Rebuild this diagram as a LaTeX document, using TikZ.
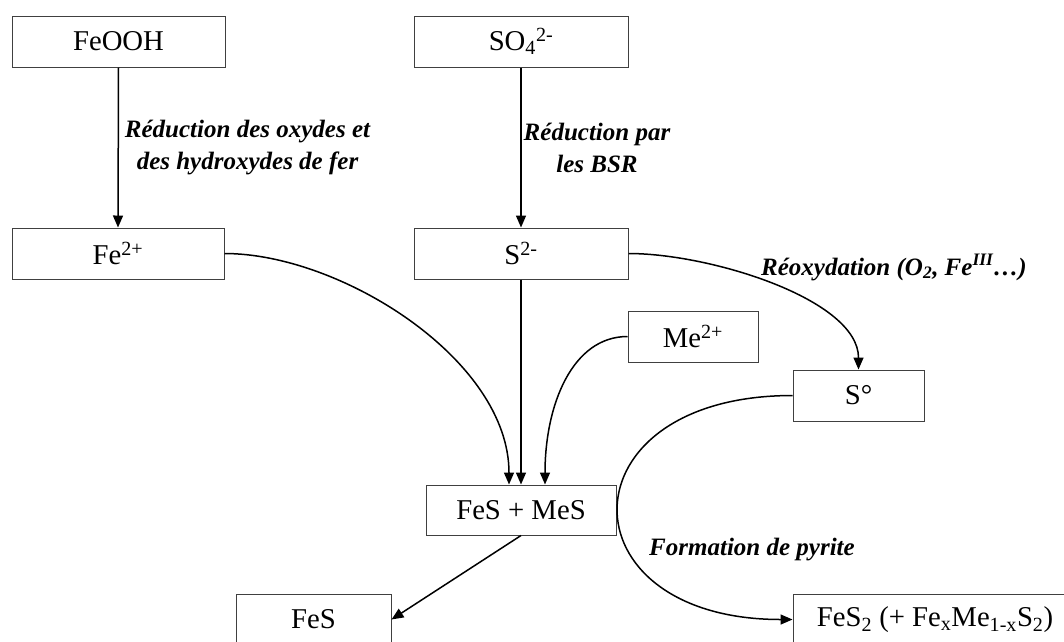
\documentclass[tikz,border=0pt]{standalone}
\usepackage{fontspec}
\setmainfont{Liberation Serif}
\usetikzlibrary{arrows.meta}
\begin{document}
\begin{tikzpicture}[x=1pt,y=-1pt,
  box/.style={draw=black!75,line width=1pt,fill=white,inner sep=0pt,
    minimum height=51pt,font=\fontsize{28.7}{34}\selectfont},
  conn/.style={line width=1.5pt,-{Triangle[length=12pt,width=10pt]}},
  lbl/.style={font=\fontsize{25}{32}\selectfont\bfseries\itshape,inner sep=0pt}]
\clip (0,0) rectangle (1064,641);
\fill[white] (0,0) rectangle (1064,641);
% boxes
\node[box,minimum width=213pt] (feooh) at (118.5,41.5) {FeOOH};
\node[box,minimum width=214pt] (so4) at (521,41.5) {SO\textsubscript{4}\textsuperscript{2-}};
\node[box,minimum width=212pt] (fe2) at (118,253.5) {Fe\textsuperscript{2+}};
\node[box,minimum width=214pt] (s2) at (521,253.5) {S\textsuperscript{2-}};
\node[box,minimum width=130pt] (me2) at (693,336.5) {Me\textsuperscript{2+}};
\node[box,minimum width=131pt] (s0) at (858.5,395.5) {S°};
\node[box,minimum width=190pt,minimum height=50pt] (fesmes) at (521,510) {FeS + MeS};
\node[box,minimum width=155pt] (fes) at (313.5,619.5) {FeS};
\node[box,minimum width=284pt] (fes2) at (935,619.5) {FeS\textsubscript{2} (+ Fe\textsubscript{x}Me\textsubscript{1-x}S\textsubscript{2})};
% entry points
\coordinate (fe2in) at ([xshift=-12pt]fesmes.north);
\coordinate (me2in) at ([xshift=24pt]fesmes.north);
% connectors
\draw[conn] (feooh.south) -- (fe2.north);
\draw[conn] (so4.south) -- (s2.north);
\draw[conn] (s2.south) -- (fesmes.north);
\draw[conn] (fe2.east) .. controls +(116,0) and +(0,-125) .. (fe2in);
\draw[conn] (me2.west) .. controls +(-55,0) and +(0,-80) .. (me2in);
\draw[conn] (s2.east) .. controls +(82,0) and +(0,-70) .. (s0.north);
\draw[conn] (s0.west) .. controls +(-232,0) and +(-232,0) .. (fes2.west);
\draw[conn] (fesmes.south) -- (fes.east);
% labels
\node[lbl,align=center] (l1) at (247.5,148) {Réduction des oxydes et\\des hydroxydes de fer};
\node[lbl,align=center] (l2) at (597,148) {Réduction par\\les BSR};
\node[lbl,anchor=base west] (l3) at (761,275) {Réoxydation (O\textsubscript{2}, Fe\textsuperscript{III}…)};
\node[lbl,anchor=base west] (l4) at (649,555) {Formation de pyrite};
\end{tikzpicture}
\end{document}
